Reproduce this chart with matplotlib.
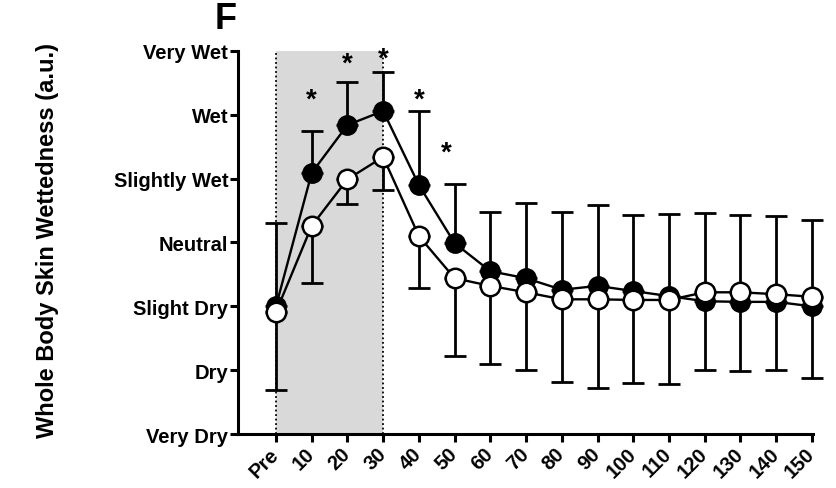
import matplotlib
matplotlib.use('Agg')
import matplotlib.pyplot as plt

plt.rcParams['font.family'] = ['Liberation Sans', 'DejaVu Sans']
plt.rcParams['font.weight'] = 'bold'

# time points and rating scale
time_labels = ['Pre', '10', '20', '30', '40', '50', '60', '70', '80', '90',
               '100', '110', '120', '130', '140', '150']
scale_labels = ['Very Dry', 'Dry', 'Slight Dry', 'Neutral', 'Slightly Wet', 'Wet', 'Very Wet']
scale_values = [-3, -2, -1, 0, 1, 2, 3]

# filled circles (mean, upper error)
filled_mean = [-1.00, 1.09, 1.84, 2.06, 0.90, -0.01, -0.45, -0.56, -0.74, -0.68,
               -0.76, -0.84, -0.92, -0.93, -0.93, -1.00]
filled_err = [1.30, 0.66, 0.67, 0.61, 1.16, 0.92, 0.92, 1.18, 1.21, 1.27,
              1.19, 1.28, 1.38, 1.36, 1.35, 1.36]

# open circles (mean, lower error)
open_mean = [-1.09, 0.26, 0.99, 1.34, 0.10, -0.56, -0.68, -0.78, -0.89, -0.89,
             -0.90, -0.90, -0.78, -0.78, -0.81, -0.85]
open_err = [1.22, 0.89, 0.39, 0.52, 0.81, 1.22, 1.22, 1.21, 1.30, 1.39,
            1.30, 1.32, 1.22, 1.24, 1.19, 1.28]

# significance marks
star_x = [1, 2, 3, 4, 4.76]
star_y = [2.24, 2.80, 2.88, 2.24, 1.40]

x = list(range(len(time_labels)))

fig = plt.figure(figsize=(8.37, 4.89), dpi=100)
ax = fig.add_axes([0.2843, 0.1104, 0.687, 0.7833])

# shaded exercise period and dotted boundaries
ax.axvspan(0, 3, color='#d9d9d9', lw=0, zorder=0)
ax.axvline(0, color='black', ls=(0, (1, 1.5)), lw=1.3, zorder=1)
ax.axvline(3, color='black', ls=(0, (1, 1.5)), lw=1.3, zorder=1)

ax.errorbar(x, filled_mean, yerr=[[0] * len(x), filled_err], fmt='none',
            ecolor='black', elinewidth=2, capsize=8, capthick=2, zorder=2, clip_on=False)
ax.plot(x, filled_mean, '-o', color='black', lw=1.7, ms=13.5, mfc='black',
        mec='black', mew=1.5, zorder=3, clip_on=False)

ax.errorbar(x, open_mean, yerr=[open_err, [0] * len(x)], fmt='none',
            ecolor='black', elinewidth=2, capsize=8, capthick=2, zorder=4, clip_on=False)
ax.plot(x, open_mean, '-o', color='black', lw=1.7, ms=14, mfc='white',
        mec='black', mew=1.8, zorder=5, clip_on=False)

for sx, sy in zip(star_x, star_y):
    ax.text(sx, sy, '*', ha='center', va='center', fontsize=20, fontweight='bold', zorder=6)

ax.set_xlim(-1.064, 15.03)
ax.set_ylim(-3, 3)

ax.set_yticks(scale_values)
ax.set_yticklabels(scale_labels, fontsize=14.5, fontweight='bold')
ax.set_xticks(x)
ax.set_xticklabels(time_labels, fontsize=14.5, fontweight='bold', rotation=45,
                   ha='right', va='center', rotation_mode='anchor')

for side in ['top', 'right']:
    ax.spines[side].set_visible(False)
for side in ['left', 'bottom']:
    ax.spines[side].set_linewidth(2.2)
ax.tick_params(axis='both', length=6, width=2.2, direction='out')
ax.tick_params(axis='y', pad=1)
ax.tick_params(axis='x', pad=6)

ax.set_ylabel('Whole Body Skin Wettedness (a.u.)', fontsize=17, fontweight='bold')
ax.yaxis.set_label_coords(-0.312, 0.508)

fig.text(0.256, 0.961, 'F', fontsize=26, fontweight='bold', va='center')

fig.savefig('out.png', dpi=100)
